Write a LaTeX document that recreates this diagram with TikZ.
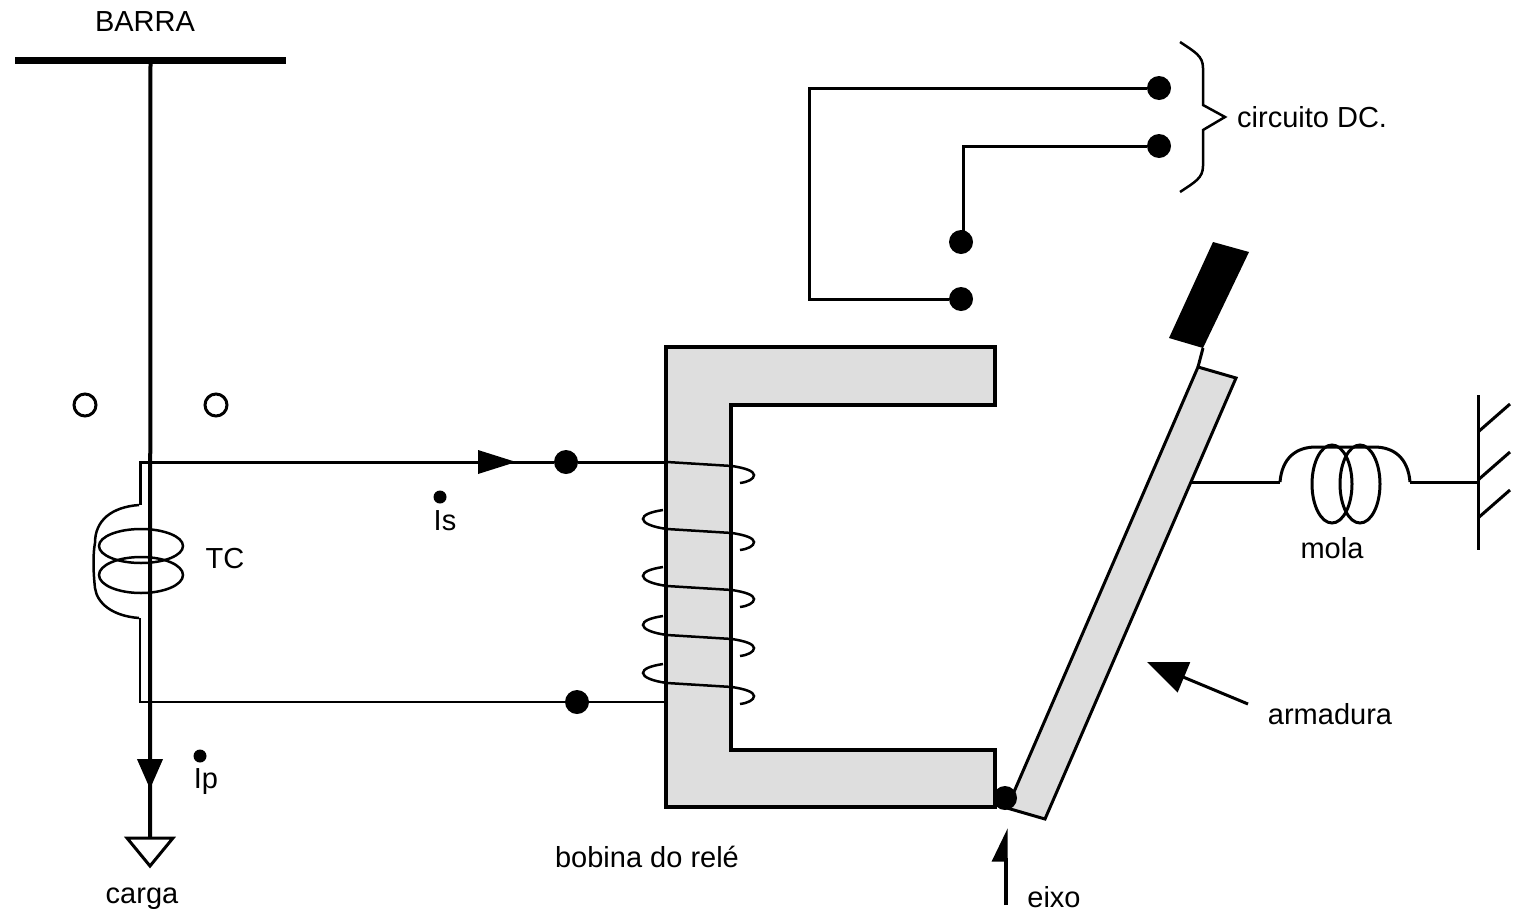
\documentclass[tikz,border=0pt]{standalone}
\usepackage{fontspec}
\setmainfont{Liberation Sans}
\usetikzlibrary{arrows.meta}
\definecolor{coregray}{HTML}{DEDEDE}
\tikzset{
    label text/.style={font=\fontsize{29}{31}\selectfont, inner sep=0pt},
    junction/.style={circle, fill=black, inner sep=0pt, minimum size=24pt},
    small dot/.style={circle, fill=black, inner sep=0pt, minimum size=13pt},
    open dot/.style={circle, draw, line width=3pt, inner sep=0pt, minimum size=22pt},
    wire/.style={line width=3pt},
    thin wire/.style={line width=2.5pt},
}

\begin{document}
\begin{tikzpicture}[x=1pt, y=-1pt]
    \useasboundingbox (0,0) rectangle (1521,916);

    % Bus bar and the main line down to the load
    \node (bar) at (150.5,60) [fill=black, inner sep=0pt, minimum width=271pt, minimum height=7pt] {};
    \node (barlabel) at (145,22) [label text] {BARRA};
    \coordinate (load) at (150,838);
    \coordinate (flowbase) at (150,755);
    \coordinate (flowtip) at (150,789);
    \draw [line width=4pt] (bar.south) -- (load);
    \draw [-{Triangle[length=30pt,width=25pt]}, line width=4pt] (flowbase) -- (flowtip);
    \draw [line width=3pt, fill=white] (127,838) -- (173,838) -- (150,866) -- cycle;
    \node (loadlabel) at (142,899) [label text] {carga};

    % Loose marks beside the main line
    \node (opena) at (85,405) [open dot] {};
    \node (openb) at (216,405) [open dot] {};
    \node (ipdot) at (200,756) [small dot] {};
    \node (iplabel) at (206,782) [label text] {Ip};
    \node (isdot) at (440,497) [small dot] {};
    \node (islabel) at (445,521) [label text] {Is};
    \node (tclabel) at (225,559) [label text] {TC};

    % Current transformer winding
    \draw [thin wire] (139,505) .. controls (112,507) and (95,520) .. (95,543)
        .. controls (93,553) and (93,570) .. (95,588)
        .. controls (97,603) and (112,616) .. (139,618);
    \draw [thin wire] (141,546) ellipse [x radius=42, y radius=17];
    \draw [thin wire] (141,575) ellipse [x radius=42, y radius=18];

    % Secondary circuit
    \node (isjunction) at (566,462) [junction] {};
    \node (lowjunction) at (577,702) [junction] {};
    \coordinate (coiltop) at (667,462);
    \coordinate (coilbottom) at (667,702);
    \coordinate (tctop) at (140,505);
    \coordinate (tcbottom) at (140,618);
    \draw [wire] (tctop) |- (isjunction);
    \draw [wire] (isjunction) -- (coiltop);
    \draw [thin wire] (tcbottom) |- (lowjunction);
    \draw [thin wire] (lowjunction) -- (coilbottom);
    \fill (478,450) -- (516,462) -- (478,474) -- cycle;

    % Relay core
    \draw [line width=3.4pt, fill=coregray] (666,347) -- (995,347) -- (995,405) -- (731,405)
        -- (731,750) -- (995,750) -- (995,807) -- (666,807) -- cycle;
    \node (corelabel) at (647,857) [label text] {bobina do relé};

    % Coil turns around the core
    \foreach \y in {443,510,567,616,664} {
        \draw [thin wire] (667,\y+19) -- (732,\y+23)
            .. controls (745,\y+25) and (754,\y+28) .. (754,\y+32)
            .. controls (754,\y+36) and (748,\y+39) .. (740,\y+40);
    }
    \foreach \y in {510,567,616,664} {
        \draw [thin wire] (663,\y) .. controls (650,\y+2) and (643,\y+5) .. (643,\y+9)
            .. controls (643,\y+13) and (652,\y+17) .. (667,\y+19);
    }

    % Armature with its contact
    \draw [line width=3pt, fill=coregray] (1198,367) -- (1236,378) -- (1045,819) -- (1007,808) -- cycle;
    \fill (1213,242) -- (1249,252) -- (1203,348) -- (1169,338) -- cycle;
    \draw [wire] (1203,348) -- (1198,367);
    \node (pivot) at (1005,798) [junction] {};

    % Arrow to the pivot
    \coordinate (pivotfoot) at (1006,905);
    \coordinate (pivottip) at (1006,828);
    \draw [-{Triangle[left,length=30pt,width=28pt]}, line width=3.4pt] (pivotfoot) -- (pivottip);
    \node (pivotlabel) at (1054,897) [label text] {eixo};

    % Arrow to the armature
    \coordinate (armfoot) at (1248,704);
    \coordinate (armtip) at (1147,662);
    \draw [-{Triangle[length=40pt,width=32pt]}, line width=3pt] (armfoot) -- (armtip);
    \node (armlabel) at (1330,714) [label text] {armadura};

    % DC circuit contacts
    \node (dca) at (1159,88) [junction] {};
    \node (dcb) at (1159,146) [junction] {};
    \node (contacta) at (961,242) [junction] {};
    \node (contactb) at (961,299) [junction] {};
    \coordinate (dcleft) at (809,88);
    \coordinate (dcmid) at (963,146);
    \draw [wire] (dca) -- (dcleft) |- (contactb);
    \draw [wire] (dcb) -- (dcmid) -- (dcmid |- contacta);
    \draw [thin wire] (1180,42) .. controls (1195,52) and (1203,56) .. (1203,68) -- (1203,105)
        -- (1225,117) -- (1203,130) -- (1203,166)
        .. controls (1203,178) and (1195,182) .. (1180,192);
    \node (dclabel) at (1237,117) [label text, anchor=west] {circuito DC.};

    % Spring and its wall
    \coordinate (springa) at (1192,482);
    \coordinate (springb) at (1280,482);
    \coordinate (springc) at (1410,482);
    \coordinate (wallmid) at (1478,482);
    \draw [wire] (springa) -- (springb);
    \draw [wire] (springc) -- (wallmid);
    \draw [wire] (springb) .. controls (1282,458) and (1296,447) .. (1316,447) -- (1374,447)
        .. controls (1394,447) and (1408,458) .. (springc);
    \draw [wire] (1332,484) ellipse [x radius=20, y radius=39];
    \draw [wire] (1360,484) ellipse [x radius=20, y radius=39];
    \draw [wire] (1478,395) -- (1478,550);
    \foreach \y in {432,480,518} {
        \draw [wire] (1478,\y) -- (1510,\y-28);
    }
    \node (springlabel) at (1332,548) [label text] {mola};
\end{tikzpicture}
\end{document}
